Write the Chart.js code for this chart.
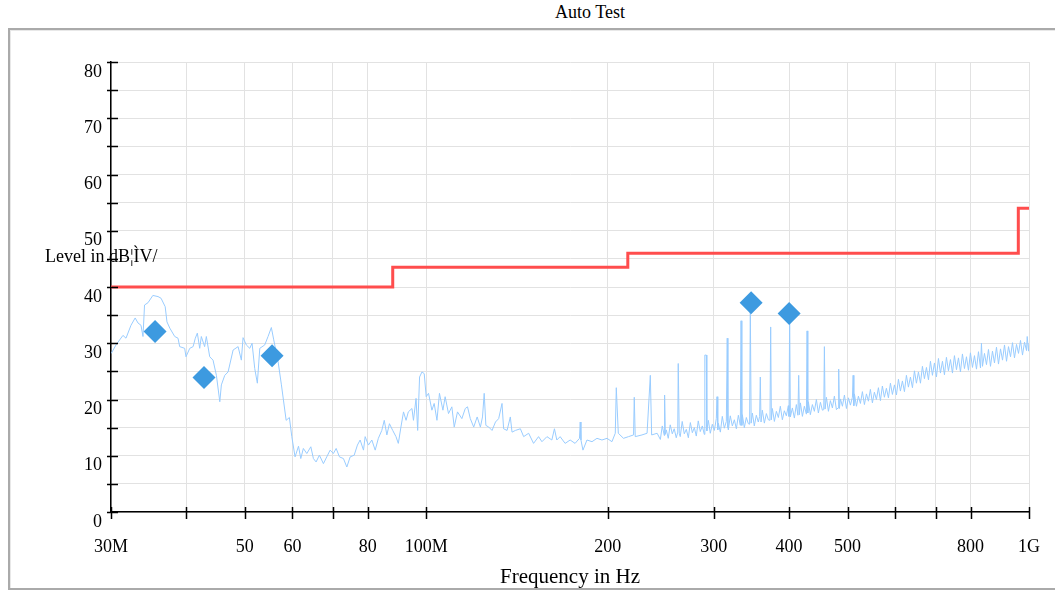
<!DOCTYPE html>
<html>
<head>
<meta charset="utf-8">
<title>Auto Test</title>
<script src="https://cdn.jsdelivr.net/npm/chart.js@4.4.1/dist/chart.umd.min.js"></script>
<style>
  html, body { margin: 0; padding: 0; background: #fff; overflow: hidden; }
  body { width: 1055px; height: 592px; position: relative; font-family: 'Liberation Serif', 'Times New Roman', serif; color: #000; }
  #frame { position: absolute; left: 8px; top: 28px; width: 1200px; height: 558px; border: 2px solid #aaa; box-shadow: inset 1px 1px 0 #e8e8e8; }
  #title { position: absolute; left: 490px; width: 200px; top: 2px; line-height: 20px; text-align: center; font-size: 18px; }
  #ylabel { position: absolute; left: 45px; top: 246px; line-height: 20px; font-size: 18px; white-space: nowrap; z-index: 2; }
  #wrap { position: absolute; left: 0; top: 0; width: 1055px; height: 592px; z-index: 1; }
</style>
</head>
<body>
<div id="frame"></div>
<div id="title">Auto Test</div>
<div id="wrap"><canvas id="emcChart" width="1055" height="592"></canvas></div>
<div id="ylabel">Level in dB¦ÌV/</div>
<script>
// Measured spectrum (frequency in MHz, level in dB)
const traceFreq = [
    30.03, 30.58, 31.4, 31.77, 32.38, 32.9, 33.26, 33.64, 33.9, 34.1,
    34.55, 35.2, 35.9, 36.32, 36.9, 37.15, 37.55, 38.27, 38.75, 39.0,
    39.75, 39.95, 40.53, 41.05, 41.4, 41.72, 42.1, 42.36, 42.9, 43.18,
    43.74, 44.3, 44.87, 45.46, 45.73, 46.33, 46.92, 47.83, 48.75, 49.36,
    49.68, 50.3, 50.97, 51.42, 51.95, 52.47, 52.96, 53.97, 54.66, 55.35,
    55.86, 56.8, 57.52, 57.97, 58.57, 59.3, 59.85, 60.6, 61.4, 61.94,
    62.55, 63.38, 64.36, 65.0, 65.67, 66.5, 67.53, 68.4, 69.28, 70.15,
    70.9, 71.8, 72.9, 73.85, 74.8, 75.95, 76.9, 77.7, 78.7, 79.2,
    80.2, 81.25, 82.3, 83.3, 84.4, 85.2, 86.05, 86.9, 88.0, 89.1,
    89.9, 90.8, 91.7, 92.6, 93.4, 94.7, 95.25, 96.2, 96.8, 97.5,
    98.4, 99.25, 100.0, 100.9, 102.2, 103.1, 104.2, 105.2, 106.6, 107.5,
    108.9, 110.3, 111.3, 112.7, 114.6, 116.1, 117.1, 118.35, 119.9, 121.5,
    123.0, 124.0, 124.8, 125.6, 127.0, 128.6, 130.3, 131.9, 133.6, 134.4,
    136.2, 137.9, 138.8, 140.6, 143.3, 145.1, 147.9, 150.7, 153.6, 155.6,
    158.6, 161.6, 163.2, 164.7, 166.8, 170.0, 173.3, 176.6, 179.6, 180.1,
    180.6, 182.0, 184.8, 188.4, 192.0, 195.7, 199.5, 203.3, 205.9, 206.7,
    208.3, 212.5, 216.6, 220.8, 221.4, 222.2, 228.0, 232.5, 235.4, 236.6,
    241.6,
    244.6, 246.4, 248.3, 248.6, 249.3, 250.2, 252.1, 254.0, 256.0, 257.9,
    259.9, 261.4, 261.9, 262.9, 263.9, 265.9, 268.0, 270.1, 272.2, 274.3,
    276.4, 278.5, 280.6, 282.7, 284.9, 287.1, 289.3, 289.9, 291.6, 292.1,
    293.8, 296.0, 298.3, 300.6, 302.9, 303.7, 304.6, 305.2, 307.6, 309.9,
    312.3, 314.7, 315.8, 316.6, 317.1, 319.5, 322.0, 324.5, 327.0, 329.5,
    332.0, 332.9, 333.9, 334.5, 337.1, 339.7, 342.3, 344.0, 344.9, 346.0,
    347.6, 350.2, 352.9, 355.6, 357.4, 358.3, 359.3, 361.1, 363.9, 366.7,
    369.5, 371.8, 372.8, 373.8, 375.2, 378.1, 381.0, 383.9, 386.8, 389.8,
    392.8, 395.8, 398.8, 399.8, 400.8, 401.9, 405.0, 408.1, 411.2, 413.7,
    414.9, 416.0, 417.6, 420.8, 424.0, 427.3, 428.4, 429.6, 430.5, 433.8,
    437.2, 440.5, 443.9, 447.3, 450.8, 454.2, 456.6, 457.7, 458.9, 461.2,
    464.8, 468.3, 471.9, 475.5, 479.2, 482.2, 483.4, 484.7, 486.6, 490.3,
    494.1, 497.9, 501.7, 505.5, 509.4, 510.8, 512.2, 513.3, 517.3, 521.2,
    525.2, 529.2, 533.3, 537.4, 541.5, 545.6, 549.8, 554.0, 558.3, 562.6,
    566.9, 571.2, 575.6, 580.0, 584.5, 589.0, 593.5, 598.1, 602.7, 607.3,
    611.9, 616.6, 621.4, 626.1, 630.9, 635.8, 640.7, 645.6, 650.5, 655.5,
    660.6, 665.6, 670.7, 675.9, 681.1, 686.3, 691.5, 696.8, 702.2, 707.6,
    713.0, 718.5, 724.0, 729.5, 735.1, 740.8, 746.5, 752.2, 758.0, 763.8,
    769.6, 775.5, 781.5, 787.5, 793.5, 799.6, 805.8, 812.0, 818.2, 824.5,
    830.8, 833.9, 837.2, 843.6, 850.1, 856.6, 863.2, 869.8, 876.5, 883.2,
    890.0, 896.9, 903.8, 910.7, 917.7, 924.7, 931.8, 938.9, 946.1, 953.4,
    960.7, 968.1, 975.5, 983.0, 990.6, 993.2, 998.2, 1000
];
const traceLevel = [
    28.2, 29.7, 31.4, 30.9, 33.2, 34.5, 33.6, 33.2, 31.2, 36.8,
    37.2, 38.5, 38.3, 38.0, 36.5, 33.8, 32.7, 31.2, 30.9, 29.4,
    29.1, 27.6, 29.1, 29.4, 30.9, 31.8, 29.1, 31.2, 29.4, 31.2,
    27.6, 27.0, 24.3, 19.6, 22.6, 24.3, 24.9, 28.8, 29.4, 27.0,
    31.0, 29.7, 29.1, 30.0, 25.5, 22.9, 29.1, 29.7, 31.2, 32.8,
    30.6, 26.7, 22.6, 19.9, 16.3, 16.8, 13.4, 9.8, 11.7, 9.5,
    11.3, 10.4, 11.6, 9.5, 8.9, 10.1, 8.6, 9.8, 11.0, 10.4,
    11.3, 9.8, 9.5, 8.0, 9.8, 10.1, 11.9, 12.8, 11.0, 13.4,
    11.9, 12.8, 11.0, 13.1, 14.5, 16.3, 13.7, 15.7, 14.5, 13.4,
    12.2, 15.1, 17.8, 16.3, 17.8, 18.4, 16.3, 20.2, 14.5, 24.0,
    24.9, 24.6, 20.5, 21.1, 18.1, 19.3, 16.3, 21.1, 18.1, 20.5,
    17.5, 18.7, 15.1, 17.8, 16.6, 18.4, 18.7, 16.6, 15.1, 16.9,
    15.1, 16.9, 21.1, 15.4, 15.1, 14.5, 16.0, 16.6, 19.3, 14.8,
    14.5, 16.9, 14.2, 14.5, 14.8, 13.4, 14.0, 12.2, 13.4, 12.5,
    13.4, 12.8, 14.8, 12.8, 13.4, 12.2, 12.8, 12.2, 13.1, 16.0,
    12.8, 11.0, 12.8, 12.5, 13.1, 12.8, 13.1, 12.5, 14.0, 22.1,
    14.0, 13.1, 13.4, 13.7, 20.4, 13.4, 13.7, 14.0, 24.3, 13.7,
    14.0,
    12.9, 15.3, 13.6, 20.8, 13.8, 14.6, 13.1, 15.5, 13.9, 14.8,
    13.2, 14.2, 26.4, 14.0, 13.4, 16.1, 13.9, 14.7, 13.2, 15.9,
    14.1, 15.0, 13.5, 16.2, 14.3, 15.3, 13.8, 27.9, 27.9, 14.4,
    16.3, 14.0, 15.6, 14.5, 16.6, 20.5, 14.6, 15.8, 14.2, 17.0,
    14.9, 16.1, 30.9, 15.0, 14.6, 17.1, 15.3, 16.4, 14.8, 17.2,
    15.4, 34.0, 15.4, 17.3, 15.0, 16.8, 15.7, 15.6, 36.5, 15.8,
    17.6, 15.3, 17.2, 16.0, 17.0, 24.0, 16.0, 18.1, 15.8, 17.5,
    16.4, 16.3, 32.9, 16.4, 18.4, 16.1, 17.9, 16.8, 18.8, 16.4,
    18.0, 17.1, 18.9, 17.0, 34.8, 16.9, 18.5, 16.7, 19.1, 17.2,
    24.3, 17.3, 19.4, 17.0, 18.8, 17.4, 32.2, 17.6, 19.6, 17.3,
    19.1, 17.9, 20.0, 17.6, 19.5, 18.1, 18.2, 29.4, 18.3, 20.4,
    17.9, 19.8, 18.5, 20.6, 18.2, 18.5, 25.4, 18.4, 20.1, 18.8,
    20.8, 18.4, 20.3, 19.0, 20.4, 24.3, 18.9, 21.0, 18.8, 20.6,
    19.3, 21.4, 19.1, 21.0, 19.7, 21.8, 19.4, 21.3, 20.0, 22.1,
    19.8, 22.4, 20.4, 22.0, 20.3, 22.9, 20.9, 22.6, 20.8, 23.6,
    21.5, 23.3, 21.4, 24.3, 22.2, 24.0, 22.1, 25.1, 22.9, 24.9,
    22.9, 25.9, 23.7, 25.7, 23.5, 26.8, 24.3, 26.5, 24.0, 27.3,
    24.7, 26.8, 24.4, 27.5, 25.1, 27.1, 24.7, 27.8, 25.3, 27.4,
    24.9, 28.1, 25.5, 27.6, 25.2, 28.3, 25.7, 27.8, 25.4, 28.5,
    25.6, 30.0, 25.9, 28.2, 26.2, 28.9, 25.9, 28.6, 26.5, 29.3,
    26.3, 29.0, 27.0, 29.7, 26.8, 29.4, 27.6, 30.1, 27.4, 29.8,
    28.2, 30.5, 27.9, 30.2, 28.7, 31.2, 28.6, 30.0
];

// Limit line (stepped)
const limitFreq = [30, 88, 88, 216, 216, 960, 960, 1000];
const limitLevel = [40, 40, 43.5, 43.5, 46, 46, 54, 54];

// Peak markers
const peakFreq = [35.5, 42.8, 55.5, 346, 400];
const peakLevel = [32.1, 23.9, 27.8, 37.2, 35.3];

// Axis ticks
const xTickValues = [30, 40, 50, 60, 70, 80, 100, 200, 300, 400, 500, 600, 700, 800, 1000];
const xTickLabels = ['30M', '', '50', '60', '', '80', '100M', '200', '300', '400', '500', '', '', '800', '1G'];
const yTickValues = [0, 10, 20, 30, 40, 50, 60, 70, 80];

const toPoints = (xs, ys) => xs.map((v, i) => ({ x: v, y: ys[i] }));

const tickFont = { family: "'Liberation Serif', 'Times New Roman', serif", size: 18 };

// tick marks that cross the axis lines
const crossTicks = {
    id: 'crossTicks',
    afterDraw(chart) {
        const { ctx, scales: { x, y } } = chart;
        ctx.save();
        ctx.strokeStyle = '#000';
        ctx.lineWidth = 1.5;
        ctx.beginPath();
        y.ticks.forEach(t => {
            const py = Math.round(y.getPixelForValue(t.value)) + 0.5;
            ctx.moveTo(x.left - 4, py);
            ctx.lineTo(x.left + 7, py);
        });
        x.ticks.forEach(t => {
            const px = Math.round(x.getPixelForValue(t.value)) + 0.5;
            ctx.moveTo(px, y.bottom - 5);
            ctx.lineTo(px, y.bottom + 7);
        });
        ctx.stroke();
        ctx.restore();
    }
};

new Chart(document.getElementById('emcChart'), {
    type: 'line',
    data: {
        datasets: [
            {
                label: 'Peaks',
                data: toPoints(peakFreq, peakLevel),
                showLine: false,
                pointStyle: 'rectRot',
                pointRadius: 11.5,
                pointBackgroundColor: '#3d9ae0',
                pointBorderWidth: 0,
                order: 0
            },
            {
                label: 'Limit',
                data: toPoints(limitFreq, limitLevel),
                borderColor: '#ff4d4d',
                borderWidth: 3,
                pointRadius: 0,
                order: 1
            },
            {
                label: 'Level',
                data: toPoints(traceFreq, traceLevel),
                borderColor: '#99ccff',
                borderWidth: 1,
                pointRadius: 0,
                tension: 0,
                order: 2
            }
        ]
    },
    options: {
        responsive: false,
        animation: false,
        layout: { padding: { top: 62, right: 26, left: 0, bottom: 0 } },
        plugins: {
            legend: { display: false },
            tooltip: { enabled: false }
        },
        scales: {
            x: {
                type: 'logarithmic',
                min: 30,
                max: 1000,
                afterBuildTicks: s => { s.ticks = xTickValues.map(v => ({ value: v })); },
                afterFit: s => { s.height = 80; s.paddingRight = 0; s.paddingLeft = 0; },
                ticks: {
                    autoSkip: false,
                    maxRotation: 0,
                    padding: 24,
                    color: '#000',
                    font: tickFont,
                    callback: v => xTickLabels[xTickValues.indexOf(v)] ?? ''
                },
                grid: { color: '#e2e2e2', lineWidth: 1, drawTicks: false },
                border: { color: '#000', width: 1.5 },
                title: {
                    display: true,
                    text: 'Frequency in Hz',
                    color: '#000',
                    font: { family: tickFont.family, size: 21 },
                    padding: { top: 0, bottom: 2 }
                }
            },
            y: {
                min: 0,
                max: 80,
                afterFit: s => { s.width = 111; },
                ticks: {
                    stepSize: 5,
                    padding: 9,
                    labelOffset: 10,
                    color: '#000',
                    font: tickFont,
                    callback: v => yTickValues.includes(v) ? String(v) : ''
                },
                grid: { color: '#e2e2e2', lineWidth: 1, drawTicks: false },
                border: { color: '#000', width: 1.5 }
            }
        }
    },
    plugins: [crossTicks]
});
</script>
</body>
</html>
